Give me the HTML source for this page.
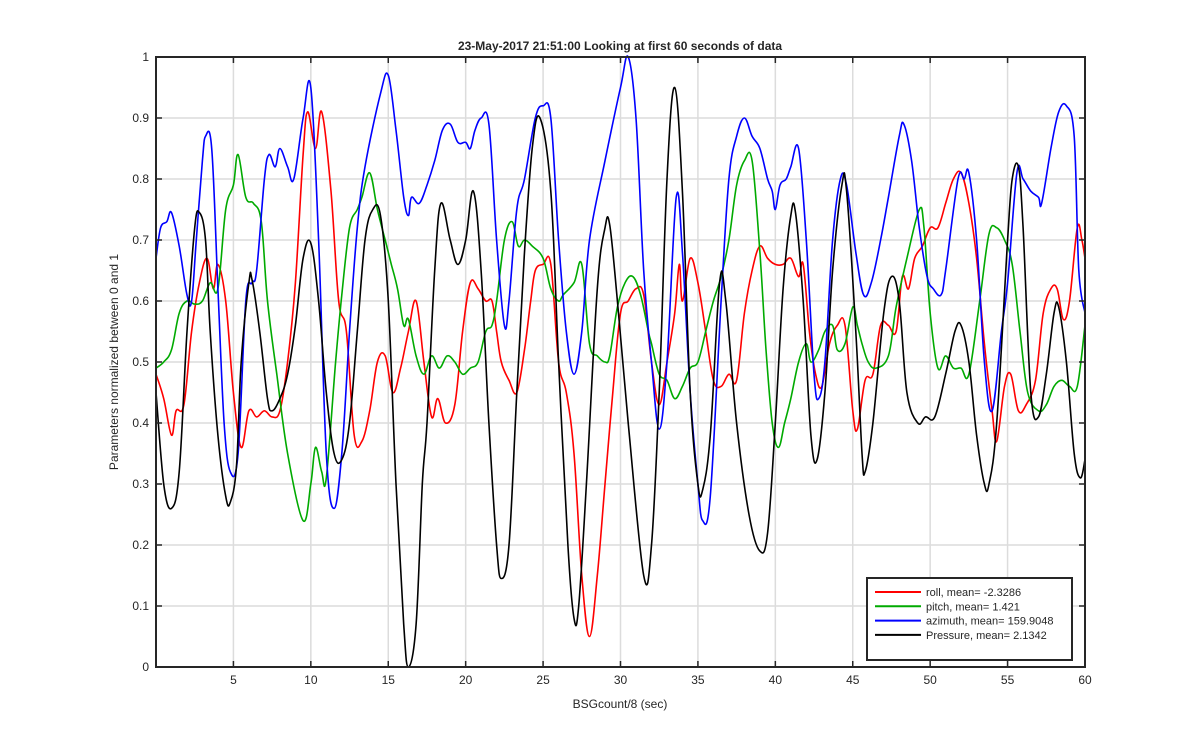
<!DOCTYPE html>
<html><head><meta charset="utf-8"><style>
body{margin:0;background:#fff;}
svg text{font-family:"Liberation Sans",Arial,sans-serif;fill:#262626;}
</style></head><body>
<svg id="chart" width="1200" height="750" xmlns="http://www.w3.org/2000/svg">
<rect width="1200" height="750" fill="#ffffff"/>
<g id="grid"></g>
<g id="series"></g>
<g id="axes"></g>
<text x="620" y="50" text-anchor="middle" font-size="12" font-weight="bold">23-May-2017 21:51:00 Looking at first 60 seconds of data</text>
<text x="620" y="708" text-anchor="middle" font-size="12">BSGcount/8 (sec)</text>
<text transform="translate(118,362) rotate(-90)" text-anchor="middle" font-size="12">Parameters normalized between 0 and 1</text>
<g id="legend"></g>
</svg>
<script>
const xTicks=[5,10,15,20,25,30,35,40,45,50,55,60];
const yTicks=[0,0.1,0.2,0.3,0.4,0.5,0.6,0.7,0.8,0.9,1];
const yTickLabels=["0","0.1","0.2","0.3","0.4","0.5","0.6","0.7","0.8","0.9","1"];
const legendLabels=["roll, mean= -2.3286","pitch, mean= 1.421","azimuth, mean= 159.9048","Pressure, mean= 2.1342"];
const roll=[[0,0.48],[0.5,0.44],[1,0.38],[1.3,0.42],[1.8,0.43],[2.3,0.55],[2.8,0.63],[3.3,0.67],[3.7,0.62],[4,0.66],[4.5,0.6],[5,0.45],[5.5,0.36],[6,0.42],[6.5,0.41],[7,0.42],[7.5,0.41],[8,0.42],[8.5,0.5],[9,0.63],[9.5,0.84],[9.8,0.91],[10.3,0.85],[10.7,0.91],[11.3,0.78],[11.8,0.6],[12.3,0.55],[12.8,0.38],[13.3,0.37],[13.8,0.42],[14.3,0.5],[14.8,0.51],[15.3,0.45],[15.8,0.49],[16.3,0.55],[16.8,0.6],[17.3,0.5],[17.8,0.41],[18.2,0.44],[18.7,0.4],[19.3,0.43],[19.8,0.55],[20.3,0.63],[20.8,0.62],[21.3,0.6],[21.7,0.6],[22,0.55],[22.3,0.5],[22.8,0.47],[23.3,0.45],[23.8,0.52],[24.2,0.6],[24.5,0.65],[25,0.66],[25.5,0.66],[26,0.5],[26.5,0.45],[27,0.35],[27.5,0.15],[28,0.05],[28.5,0.15],[29,0.3],[29.5,0.45],[30,0.58],[30.5,0.6],[31,0.62],[31.5,0.61],[32,0.5],[32.5,0.43],[33,0.5],[33.5,0.58],[33.8,0.66],[34,0.6],[34.5,0.67],[35,0.63],[35.5,0.55],[36,0.47],[36.5,0.46],[37,0.48],[37.5,0.47],[38,0.58],[38.5,0.65],[39,0.69],[39.5,0.67],[40,0.66],[40.5,0.66],[41,0.67],[41.5,0.64],[41.8,0.66],[42.2,0.55],[42.6,0.48],[43,0.46],[43.5,0.53],[44,0.56],[44.5,0.56],[45,0.42],[45.3,0.39],[45.8,0.47],[46.3,0.48],[46.8,0.56],[47.3,0.56],[47.8,0.55],[48.2,0.64],[48.6,0.62],[49,0.67],[49.5,0.69],[50,0.72],[50.5,0.72],[51,0.76],[51.5,0.8],[52,0.81],[52.5,0.76],[53,0.67],[53.5,0.53],[54,0.42],[54.3,0.37],[54.8,0.46],[55.2,0.48],[55.7,0.42],[56.2,0.43],[56.8,0.47],[57.3,0.58],[57.8,0.62],[58.2,0.62],[58.6,0.57],[59,0.6],[59.5,0.72],[59.8,0.7],[60,0.67]];
const pitch=[[0,0.49],[0.5,0.5],[1,0.52],[1.5,0.58],[2,0.6],[2.5,0.595],[3,0.6],[3.5,0.63],[4,0.62],[4.5,0.75],[5,0.79],[5.3,0.84],[5.8,0.77],[6.3,0.76],[6.8,0.73],[7.2,0.6],[7.8,0.48],[8.5,0.35],[9.5,0.24],[10,0.3],[10.3,0.36],[10.7,0.32],[11,0.31],[11.6,0.5],[12,0.61],[12.5,0.72],[13,0.75],[13.3,0.77],[13.8,0.81],[14.3,0.75],[14.8,0.7],[15.2,0.66],[15.6,0.62],[16,0.56],[16.3,0.57],[16.8,0.51],[17.3,0.48],[17.8,0.51],[18.3,0.49],[18.8,0.51],[19.3,0.5],[19.8,0.48],[20.3,0.49],[20.8,0.5],[21.3,0.55],[21.7,0.56],[22,0.6],[22.5,0.7],[23,0.73],[23.4,0.69],[23.8,0.7],[24.3,0.69],[25,0.67],[25.5,0.62],[26,0.6],[26.3,0.61],[27,0.63],[27.5,0.66],[28,0.53],[28.5,0.51],[29,0.5],[29.3,0.51],[29.8,0.59],[30.3,0.63],[30.8,0.64],[31.3,0.61],[31.8,0.55],[32,0.53],[32.5,0.48],[33,0.47],[33.5,0.44],[34,0.46],[34.5,0.49],[35,0.5],[35.5,0.55],[36,0.6],[36.5,0.64],[37,0.7],[37.5,0.79],[38,0.83],[38.5,0.83],[39,0.68],[39.4,0.52],[39.8,0.4],[40.2,0.36],[40.6,0.4],[41,0.44],[41.5,0.5],[42,0.53],[42.3,0.5],[42.8,0.52],[43.2,0.55],[43.7,0.56],[44,0.52],[44.5,0.53],[45,0.59],[45.3,0.56],[45.6,0.53],[46,0.5],[46.5,0.49],[47.3,0.51],[47.8,0.59],[48.5,0.67],[49.3,0.75],[49.6,0.72],[50,0.58],[50.5,0.49],[51,0.51],[51.5,0.49],[52,0.49],[52.5,0.48],[53.2,0.6],[53.8,0.71],[54.3,0.72],[54.8,0.7],[55.3,0.66],[55.8,0.55],[56.3,0.45],[57,0.42],[57.5,0.43],[58,0.46],[58.5,0.47],[59,0.46],[59.5,0.46],[60,0.56]];
const azimuth=[[0,0.67],[0.3,0.72],[0.7,0.73],[1,0.745],[1.5,0.69],[2,0.61],[2.3,0.6],[2.6,0.7],[3,0.83],[3.2,0.87],[3.6,0.85],[4,0.62],[4.4,0.4],[4.8,0.32],[5.3,0.35],[5.8,0.6],[6.2,0.63],[6.5,0.65],[7,0.8],[7.3,0.84],[7.7,0.82],[8,0.85],[8.5,0.82],[8.9,0.8],[9.5,0.9],[10,0.95],[10.5,0.7],[11,0.35],[11.5,0.26],[12,0.35],[12.5,0.55],[13,0.72],[13.5,0.82],[14.5,0.94],[15,0.97],[15.5,0.88],[16,0.77],[16.3,0.74],[16.5,0.77],[17,0.76],[17.5,0.79],[18,0.83],[18.5,0.88],[19,0.89],[19.5,0.86],[20,0.86],[20.3,0.85],[20.6,0.88],[21,0.9],[21.5,0.89],[22,0.7],[22.5,0.56],[22.8,0.6],[23.3,0.75],[23.8,0.8],[24.5,0.9],[25,0.92],[25.5,0.9],[26,0.7],[26.5,0.55],[27,0.48],[27.5,0.55],[28,0.7],[29,0.83],[30,0.95],[30.5,1.0],[31,0.9],[31.5,0.65],[32,0.5],[32.5,0.39],[33,0.5],[33.6,0.77],[34,0.68],[34.5,0.45],[35,0.3],[35.3,0.24],[35.8,0.28],[36.5,0.6],[37,0.8],[37.5,0.87],[38,0.9],[38.5,0.87],[39,0.85],[39.5,0.8],[39.8,0.78],[40,0.75],[40.3,0.79],[40.7,0.8],[41,0.82],[41.5,0.85],[42,0.7],[42.5,0.48],[42.8,0.44],[43.2,0.5],[43.7,0.7],[44.2,0.8],[44.6,0.79],[45.2,0.68],[45.7,0.61],[46.2,0.63],[46.8,0.7],[47.3,0.77],[48,0.87],[48.3,0.89],[48.8,0.83],[49.3,0.72],[49.8,0.64],[50.2,0.62],[50.7,0.61],[51,0.65],[51.8,0.8],[52.2,0.8],[52.5,0.81],[53,0.7],[53.5,0.5],[54,0.42],[54.6,0.55],[55,0.63],[55.6,0.81],[56,0.8],[56.5,0.78],[57,0.77],[57.2,0.76],[57.8,0.85],[58.3,0.91],[58.8,0.92],[59.3,0.87],[59.6,0.65],[60,0.58]];
const pressure=[[0,0.45],[0.5,0.3],[1,0.26],[1.5,0.32],[2,0.55],[2.5,0.72],[2.8,0.745],[3.2,0.7],[3.5,0.55],[4,0.38],[4.5,0.28],[4.8,0.27],[5.2,0.33],[5.5,0.5],[6,0.63],[6.2,0.635],[6.7,0.55],[7.2,0.44],[7.5,0.42],[8,0.44],[8.5,0.48],[9,0.56],[9.5,0.67],[10,0.695],[10.5,0.6],[11,0.45],[11.5,0.35],[12,0.34],[12.5,0.4],[13,0.55],[13.5,0.7],[14,0.75],[14.5,0.74],[15,0.6],[15.5,0.3],[16,0.07],[16.3,0.0],[16.8,0.07],[17.2,0.3],[17.5,0.4],[18,0.65],[18.4,0.76],[19,0.7],[19.5,0.66],[20,0.7],[20.5,0.78],[21,0.65],[21.5,0.4],[22,0.2],[22.3,0.145],[22.8,0.2],[23.3,0.45],[23.8,0.68],[24.3,0.85],[24.8,0.9],[25.5,0.78],[26,0.5],[26.6,0.2],[27,0.08],[27.3,0.1],[27.8,0.3],[28.5,0.62],[29,0.72],[29.3,0.725],[29.8,0.6],[30.5,0.4],[31.5,0.15],[32,0.2],[32.5,0.45],[33,0.8],[33.5,0.95],[34,0.78],[34.5,0.45],[35,0.3],[35.3,0.29],[35.8,0.38],[36.4,0.63],[36.8,0.6],[37.5,0.4],[38.3,0.25],[39,0.19],[39.5,0.22],[40,0.4],[40.5,0.62],[41,0.74],[41.3,0.745],[41.8,0.6],[42.3,0.38],[42.7,0.34],[43.2,0.45],[43.7,0.65],[44.3,0.79],[44.6,0.78],[45.2,0.55],[45.6,0.35],[45.8,0.32],[46.3,0.4],[47,0.58],[47.5,0.64],[48,0.6],[48.5,0.45],[49.2,0.4],[49.7,0.41],[50.3,0.41],[51,0.48],[51.6,0.55],[52,0.56],[52.5,0.5],[53,0.38],[53.5,0.3],[53.8,0.3],[54.3,0.4],[55,0.7],[55.3,0.8],[55.7,0.82],[56,0.72],[56.5,0.45],[57,0.41],[57.5,0.48],[58,0.58],[58.3,0.59],[58.8,0.5],[59.3,0.35],[59.7,0.31],[60,0.34]];

const NS="http://www.w3.org/2000/svg";
const L=156,R=1085,T=57,B=667;
const xs=v=>L+(v/60)*(R-L);
const ys=v=>B-v*(B-T);
function mk(tag,attrs,parent){const e=document.createElementNS(NS,tag);for(const k in attrs)e.setAttribute(k,attrs[k]);parent.appendChild(e);return e;}
function smoothPath(pts){
  const p=pts.map(q=>[xs(q[0]),ys(q[1])]);
  let d='M'+p[0][0].toFixed(1)+','+p[0][1].toFixed(1);
  const t=0.18;
  for(let i=0;i<p.length-1;i++){
    const p0=p[i-1]||p[i],p1=p[i],p2=p[i+1],p3=p[i+2]||p2;
    const c1x=p1[0]+(p2[0]-p0[0])*t,c1y=p1[1]+(p2[1]-p0[1])*t;
    const c2x=p2[0]-(p3[0]-p1[0])*t,c2y=p2[1]-(p3[1]-p1[1])*t;
    d+=' C'+c1x.toFixed(1)+','+c1y.toFixed(1)+' '+c2x.toFixed(1)+','+c2y.toFixed(1)+' '+p2[0].toFixed(1)+','+p2[1].toFixed(1);
  }
  return d;
}
const grid=document.getElementById('grid'),axes=document.getElementById('axes'),ser=document.getElementById('series'),leg=document.getElementById('legend');
xTicks.forEach(t=>{
  const g=mk('line',{x1:xs(t),x2:xs(t),y1:T,y2:B,stroke:'#dcdcdc','stroke-width':1.5},grid);
  
  
  [[B,B-6],[T,T+6]].forEach(p=>{const k=mk('line',{x1:xs(t),x2:xs(t),y1:p[0],y2:p[1],stroke:'#262626','stroke-width':1.5},axes);
  
  });
  const lb=mk('text',{x:xs(t),y:B+17,'text-anchor':'middle','font-size':12},axes);lb.textContent=String(t);
  
  
});
yTicks.forEach((t,i)=>{
  const g=mk('line',{x1:L,x2:R,y1:ys(t),y2:ys(t),stroke:'#dcdcdc','stroke-width':1.5},grid);
  
  
  [[L,L+6],[R,R-6]].forEach(p=>{const k=mk('line',{x1:p[0],x2:p[1],y1:ys(t),y2:ys(t),stroke:'#262626','stroke-width':1.5},axes);
  
  });
  const lb=mk('text',{x:L-7,y:ys(t)+4,'text-anchor':'end','font-size':12},axes);lb.textContent=yTickLabels[i];
  
  
});
const box=mk('rect',{x:L,y:T,width:R-L,height:B-T,fill:'none',stroke:'#262626','stroke-width':2},axes);


const allSeries=[[roll,'#ff0000','roll-line'],[pitch,'#00aa00','pitch-line'],[azimuth,'#0000ff','azimuth-line'],[pressure,'#000000','pressure-line']];
allSeries.forEach(s=>{
  const pl=mk('path',{d:smoothPath(s[0]),fill:'none',stroke:s[1],'stroke-width':1.6,'stroke-linejoin':'round'},ser);
  
  
});
const lb=mk('rect',{x:867,y:578,width:205,height:82,fill:'#fff',stroke:'#262626','stroke-width':2},leg);


legendLabels.forEach((t,i)=>{
  const y=592+i*14.3;
  const ln=mk('line',{x1:875,x2:921,y1:y,y2:y,stroke:allSeries[i][1],'stroke-width':2},leg);
  
  
  const tx=mk('text',{x:926,y:y+4,'font-size':11,fill:'#000'},leg);tx.textContent=t;
  
  
});
</script>
</body></html>
